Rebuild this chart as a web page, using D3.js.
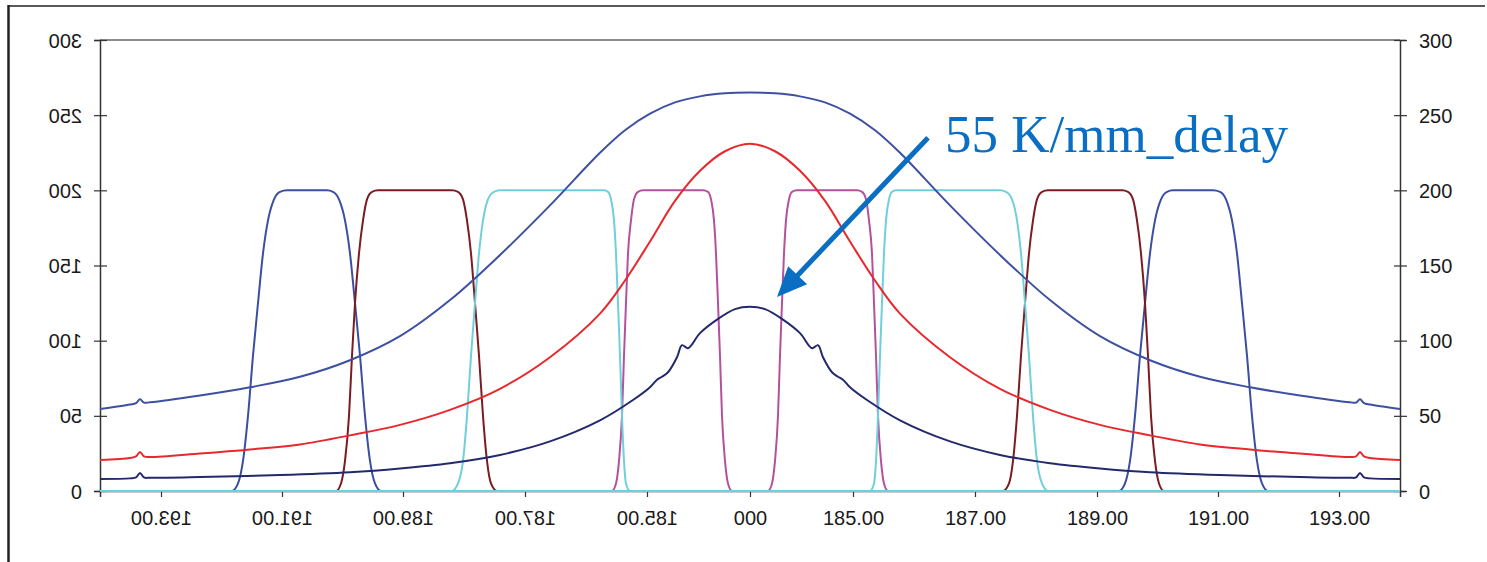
<!DOCTYPE html>
<html>
<head>
<meta charset="utf-8">
<script src="https://cdn.jsdelivr.net/npm/d3@7"></script>
<style>
  html, body { margin: 0; padding: 0; background: #fff; }
  svg { display: block; }
</style>
</head>
<body>
<svg id="chart" width="1487" height="562"></svg>
<script>
// ---------------- DATA ----------------
// x is a sample position along the (mirrored) frequency axis, 0..1300
const yTicks = [0, 50, 100, 150, 200, 250, 300];
const xTickPos = [61, 182, 303, 425, 547, 650, 753, 875, 997, 1118, 1239];
const xTickLabels = ["193.00", "191.00", "189.00", "187.00", "185.00", "000",
                     "185.00", "187.00", "189.00", "191.00", "193.00"];
const xTickMirrored = [true, true, true, true, true, false, false, false, false, false, false];

// broad curves: [x, value]
const broadBlue = [[0,54.5],[30,57.5],[36,58.5],[40,61],[44,58.8],[50,59],[100,63.5],[150,69],[200,76],
  [250,87],[300,103],[350,127],[400,157],[450,190],[500,225],[525,240],[550,251],[575,258.5],[600,262.5],
  [625,264.5],[650,265],[675,264.5],[700,262.5],[725,258.5],[750,251],[775,240],[800,225],[850,190],
  [900,157],[950,127],[1000,103],[1050,87],[1100,76],[1150,69],[1200,63.5],[1250,59],[1256,58.8],
  [1260,61],[1264,58.5],[1270,57.5],[1300,54.5]];

const redCurve = [[0,20.6],[30,22],[36,23],[40,26],[44,23],[50,22.6],[100,24.9],[150,27.6],[200,31],[250,37],
  [300,44],[350,54],[400,68],[450,89],[500,118],[525,140],[550,166],[575,193],[600,213],[625,226],
  [650,231],[675,226],[700,213],[725,193],[750,166],[775,140],[800,118],
  [850,89],[900,68],[950,54],[1000,44],[1050,37],[1100,31],[1150,27.6],[1200,24.9],[1250,22.6],[1256,23],
  [1260,26],[1264,23],[1270,22],[1300,20.6]];

const navyCurve = [[0,8],[30,8.4],[36,9],[40,12],[44,9],[50,8.8],[100,9.3],[180,10.6],[250,12.5],[300,15],
  [350,18.5],[400,24],[450,33],[500,47],[533,60.5],[550,69],[557,74],[562,76],[568,79],[577,89],[582,97],
  [588,95],[600,105],[617,114],[635,121],[650,122.6],[665,121],[683,114],[700,105],[712,95],[718,97],
  [723,89],[732,79],[738,76],[743,74],[750,69],[767,60.5],[800,47],[850,33],[900,24],[950,18.5],[1000,15],
  [1050,12.5],[1120,10.6],[1200,9.3],[1250,8.8],[1256,9],[1260,12],[1264,9],[1270,8.4],[1300,8]];

// filter passbands: shared edge levels and the x positions where each filter reaches them
const edgeLevels = [0,5,20,50,90,125,158,180,194,199,200,200,199,194,180,158,125,90,50,20,5,0];
const blueFilterL    = [132,138,143,148,153,158,163,168,174,180,187,227,233,239,245,250,255,260,265,270,275,281];
const blueFilterR    = [1019,1025,1030,1035,1040,1045,1050,1055,1061,1067,1073,1113,1120,1126,1132,1137,1142,1147,1152,1157,1162,1168];
const darkRedFilterL = [236,241,245,249,252,255,259,263,267,272,278,352,358,363,367,371,375,379,383,387,391,397];
const darkRedFilterR = [903,909,913,917,921,925,929,933,937,942,948,1022,1028,1033,1037,1041,1045,1048,1051,1055,1059,1064];
const magentaFilterL = [512,516,519,522,524,526,528,531,534,538,543,603,608,611,614,616,618,620,622,625,628,632];
const magentaFilterR = [668,672,675,678,680,682,684,686,689,692,697,757,762,766,769,772,774,776,778,781,784,788];
const cyanFilterL    = [352,358,363,367,371,375,379,383,388,394,400,504,508,511,514,516,518,520,522,524,526,530];
const cyanFilterR    = [770,774,776,778,780,782,784,786,789,792,796,900,906,912,917,921,925,929,933,937,942,948];

const annotationText = "55 K/mm_delay";
const annotationAt = [845, 225.5];
const arrowFrom = [828, 235];
const arrowTo = [677, 129];

// ---------------- DRAW ----------------
const svg = d3.select("#chart");
const x = d3.scaleLinear().domain([0, 1300]).range([100, 1400]);
const y = d3.scaleLinear().domain([0, 300]).range([491, 40]);

const colors = {
  broadBlue: "#3e50a2",
  red: "#e8282d",
  navy: "#232a6c",
  blueF: "#3b4ea2",
  darkRedF: "#7b1c22",
  magentaF: "#b4519f",
  cyanF: "#6fcfdc"
};

// frame
svg.append("line").attr("x1", 8.5).attr("x2", 8.5).attr("y1", 5).attr("y2", 562)
  .attr("stroke", "#222").attr("stroke-width", 2.5);
svg.append("line").attr("x1", 8).attr("x2", 1485).attr("y1", 6).attr("y2", 6)
  .attr("stroke", "#222").attr("stroke-width", 1.5);

// top gridline at 300
svg.append("line").attr("x1", x(0)).attr("x2", x(1300)).attr("y1", y(300)).attr("y2", y(300))
  .attr("stroke", "#8c8c8c").attr("stroke-width", 2);

const fontFam = "'Liberation Sans', Arial, sans-serif";

// left axis (mirrored labels)
const gL = svg.append("g").attr("transform", `translate(${x(0)},0)`)
  .call(d3.axisLeft(y).tickValues(yTicks).tickSizeOuter(0).tickSize(6));
gL.select(".domain").attr("stroke", "#333").attr("stroke-width", 1.5);
gL.selectAll(".tick line").attr("x1", -6).attr("x2", 7).attr("stroke", "#333").attr("stroke-width", 1.2);
gL.selectAll(".tick text")
  .attr("x", 18).attr("dy", "0.35em")
  .attr("text-anchor", "start")
  .attr("transform", "scale(-1,1)")
  .attr("font-family", fontFam).attr("font-size", 20).attr("fill", "#1a1a1a");

// right axis
const gR = svg.append("g").attr("transform", `translate(${x(1300)},0)`)
  .call(d3.axisRight(y).tickValues(yTicks).tickSizeOuter(0).tickSize(6));
gR.select(".domain").attr("stroke", "#333").attr("stroke-width", 1.5);
gR.selectAll(".tick line").attr("x1", -6).attr("x2", 7).attr("stroke", "#333").attr("stroke-width", 1.2);
gR.selectAll(".tick text")
  .attr("x", 19).attr("dy", "0.35em")
  .attr("font-family", fontFam).attr("font-size", 20).attr("fill", "#1a1a1a");

// bottom axis
const gB = svg.append("g").attr("transform", `translate(0,${y(0)})`)
  .call(d3.axisBottom(x).tickValues(xTickPos).tickFormat((d, i) => xTickLabels[i]).tickSizeOuter(0).tickSize(6));
gB.select(".domain").attr("stroke", "#333").attr("stroke-width", 1.5);
gB.selectAll(".tick line").attr("stroke", "#333").attr("stroke-width", 1.2);
gB.selectAll(".tick text")
  .attr("y", 34).attr("dy", 0)
  .attr("text-anchor", "middle")
  .attr("transform", (d, i) => xTickMirrored[i] ? "scale(-1,1)" : null)
  .attr("font-family", fontFam).attr("font-size", 20).attr("fill", "#1a1a1a");

const line = d3.line().x(d => x(d[0])).y(d => y(d[1])).curve(d3.curveMonotoneX);
const smooth = d3.line().x(d => x(d[0])).y(d => y(d[1])).curve(d3.curveCatmullRom.alpha(0.5));

function filterSeries(xs) {
  return [[0, 0]].concat(xs.map((v, i) => [v, edgeLevels[i]])).concat([[1300, 0]]);
}

const plot = svg.append("g");
const filters = [
  [blueFilterL, colors.blueF], [blueFilterR, colors.blueF],
  [darkRedFilterL, colors.darkRedF], [darkRedFilterR, colors.darkRedF],
  [magentaFilterL, colors.magentaF], [magentaFilterR, colors.magentaF],
  [cyanFilterL, colors.cyanF], [cyanFilterR, colors.cyanF]
];
filters.forEach(([xs, c]) => {
  plot.append("path").datum(filterSeries(xs)).attr("d", line)
    .attr("fill", "none").attr("stroke", c).attr("stroke-width", 2).attr("stroke-linejoin", "round");
});

[[broadBlue, colors.broadBlue], [redCurve, colors.red], [navyCurve, colors.navy]].forEach(([data, c]) => {
  plot.append("path").datum(data).attr("d", smooth)
    .attr("fill", "none").attr("stroke", c).attr("stroke-width", 2).attr("stroke-linejoin", "round");
});

// annotation
const annColor = "#0a6fc2";
svg.append("text")
  .attr("x", x(annotationAt[0])).attr("y", y(annotationAt[1]))
  .attr("font-family", "'Liberation Serif', 'Times New Roman', serif")
  .attr("font-size", 53).attr("fill", annColor)
  .text(annotationText);

const p0 = [x(arrowFrom[0]), y(arrowFrom[1])];
const p1 = [x(arrowTo[0]), y(arrowTo[1])];
const dx = p1[0] - p0[0], dy = p1[1] - p0[1];
const len = Math.hypot(dx, dy);
const ux = dx / len, uy = dy / len;
const headLen = 30, headHalf = 13;
const base = [p1[0] - ux * headLen, p1[1] - uy * headLen];
svg.append("line")
  .attr("x1", p0[0]).attr("y1", p0[1])
  .attr("x2", base[0] + ux * 4).attr("y2", base[1] + uy * 4)
  .attr("stroke", annColor).attr("stroke-width", 5);
svg.append("polygon")
  .attr("points", [
    p1,
    [base[0] - uy * headHalf, base[1] + ux * headHalf],
    [base[0] + uy * headHalf, base[1] - ux * headHalf]
  ].map(p => p.join(",")).join(" "))
  .attr("fill", annColor);
</script>
</body>
</html>
